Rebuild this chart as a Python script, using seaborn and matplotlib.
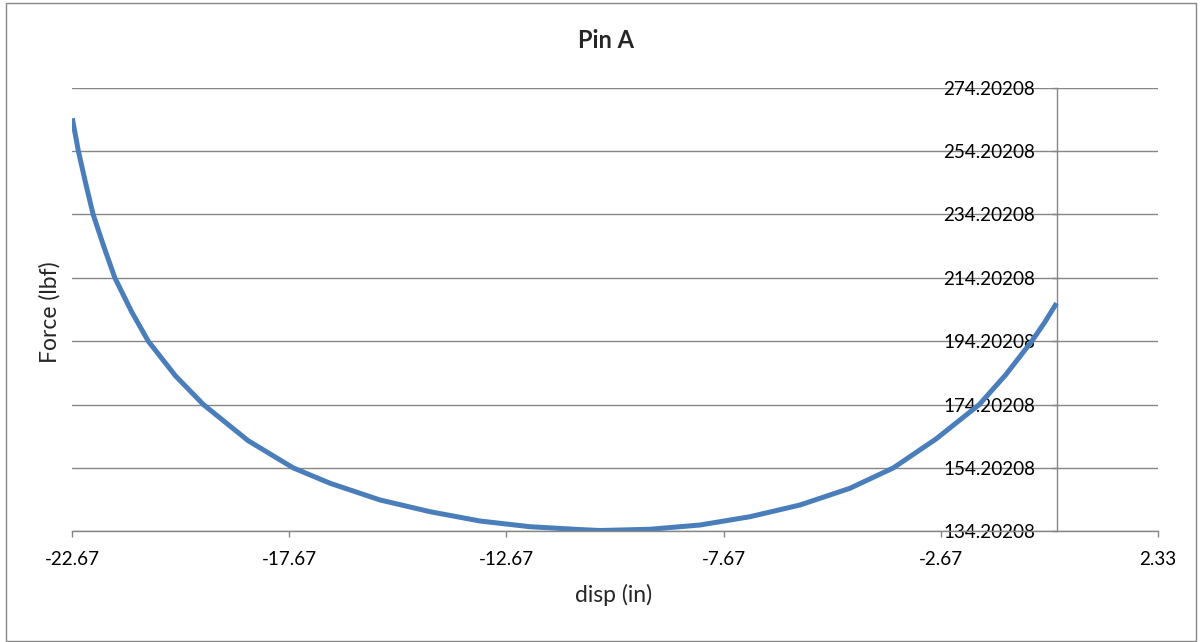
import matplotlib
matplotlib.use("Agg")
import matplotlib.pyplot as plt
import seaborn as sns
import pandas as pd
from matplotlib.patches import Rectangle

# Data
disp = [-22.67, -22.53, -22.36, -22.19, -21.94, -21.69, -21.30, -20.92, -20.29,
        -19.65, -18.62, -17.58, -16.73, -15.58, -14.43, -13.28, -12.13, -10.98,
        -10.51, -9.36, -8.21, -7.06, -5.91, -4.76, -3.76, -2.77, -1.78, -1.17,
        -0.57, -0.28, 0.0]
force = [264.55, 254.2, 243.9, 234.2, 223.9, 214.2, 203.4, 194.2, 183.2,
         174.2, 162.8, 154.2, 149.35, 144.08, 140.39, 137.45, 135.65, 134.75,
         134.45, 134.85, 136.19, 138.81, 142.5, 147.77, 154.2, 163.4, 174.2,
         183.6, 194.2, 200.0, 206.2]

x_ticks = [-22.67, -17.67, -12.67, -7.67, -2.67, 2.33]
x_tick_labels = ["-22.67", "-17.67", "-12.67", "-7.67", "-2.67", "2.33"]
y_ticks = [134.20208, 154.20208, 174.20208, 194.20208, 214.20208, 234.20208,
           254.20208, 274.20208]
y_tick_labels = ["134.20208", "154.20208", "174.20208", "194.20208", "214.20208",
                 "234.20208", "254.20208", "274.20208"]

title = "Pin A"
x_label = "disp (in)"
y_label = "Force (lbf)"

df = pd.DataFrame({"disp": disp, "force": force})

sns.set_theme(style="white")
plt.rcParams["font.family"] = ["Lato", "DejaVu Sans"]

GRAY = "#868686"
fig = plt.figure(figsize=(12.01, 6.42), dpi=100)
fig.patch.set_facecolor("white")
ax = fig.add_axes([72.3 / 1201, 1 - 531.3 / 642, (1157.7 - 72.3) / 1201, (531.3 - 87.7) / 642])

sns.lineplot(data=df, x="disp", y="force", ax=ax, sort=False, estimator=None,
             color="#4A7EBB", linewidth=3.6, solid_capstyle="butt",
             solid_joinstyle="round")

ax.set_xlim(x_ticks[0], x_ticks[-1])
ax.set_ylim(y_ticks[0], y_ticks[-1])
ax.set_xticks(x_ticks)
ax.set_xticklabels(x_tick_labels)
ax.set_yticks(y_ticks)
ax.set_yticklabels(y_tick_labels)

ax.grid(axis="y", color=GRAY, linewidth=1.0)
ax.grid(axis="x", visible=False)
ax.set_axisbelow(True)

for s in ["top", "right"]:
    ax.spines[s].set_visible(False)
ax.spines["left"].set_position(("data", 0))
ax.spines["left"].set_color(GRAY)
ax.spines["left"].set_linewidth(1.0)
ax.spines["left"].set_zorder(0.5)
ax.spines["bottom"].set_color(GRAY)
ax.spines["bottom"].set_linewidth(1.0)

ax.tick_params(axis="x", direction="out", length=4.5, width=1.0, color=GRAY,
               pad=10, labelsize=13.6, labelcolor="black", bottom=True)
ax.tick_params(axis="y", direction="out", length=3.5, width=1.0, color=GRAY,
               pad=12, labelsize=13.6, labelcolor="black", left=True)

ax.set_xlabel("")
ax.set_ylabel("")
fig.text(614 / 1201, 1 - 595 / 642, x_label, ha="center", va="center", fontsize=16.5)
fig.text(50 / 1201, 1 - 312 / 642, y_label, ha="center", va="center", rotation=90,
         fontsize=16.5)
fig.text(606 / 1201, 1 - 40 / 642, title, ha="center", va="center", fontsize=17,
         fontweight="bold")

fig.patches.append(Rectangle((5.5 / 1201, 1 - 640.5 / 642), (1196 - 5.5) / 1201,
                             (640.5 - 2.5) / 642, transform=fig.transFigure,
                             fill=False, edgecolor=GRAY, linewidth=1.0))

fig.savefig("out.png", dpi=100)
